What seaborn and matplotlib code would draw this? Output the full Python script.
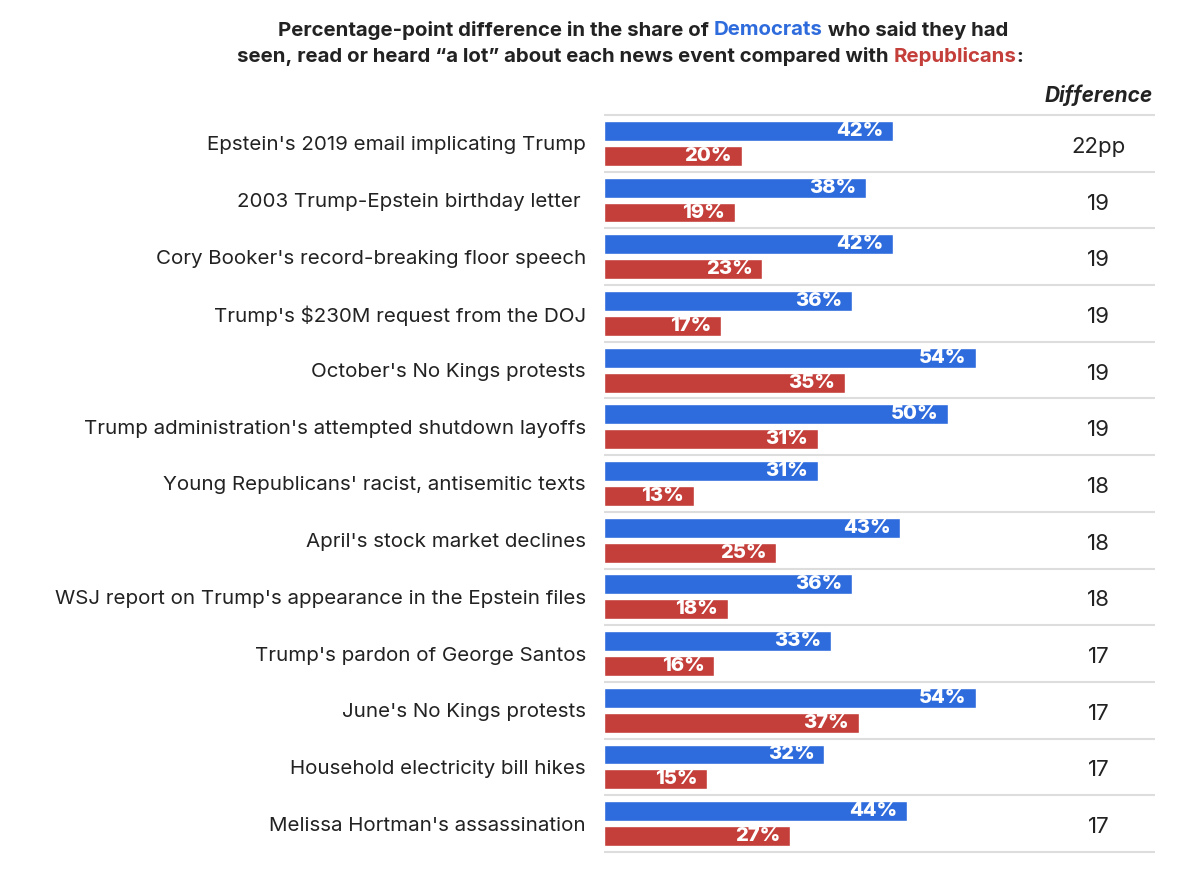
import matplotlib
matplotlib.use('Agg')
import matplotlib.pyplot as plt
import seaborn as sns
import pandas as pd

# data
events = [
    "Epstein's 2019 email implicating Trump",
    "2003 Trump-Epstein birthday letter ",
    "Cory Booker's record-breaking floor speech",
    "Trump's $230M request from the DOJ",
    "October's No Kings protests",
    "Trump administration's attempted shutdown layoffs",
    "Young Republicans' racist, antisemitic texts",
    "April's stock market declines",
    "WSJ report on Trump's appearance in the Epstein files",
    "Trump's pardon of George Santos",
    "June's No Kings protests",
    "Household electricity bill hikes",
    "Melissa Hortman's assassination",
]
dem_share = [42, 38, 42, 36, 54, 50, 31, 43, 36, 33, 54, 32, 44]
rep_share = [20, 19, 23, 17, 35, 31, 13, 25, 18, 16, 37, 15, 27]
diff_labels = ["22pp", "19", "19", "19", "19", "19", "18", "18", "18", "17", "17", "17", "17"]

BLUE = '#2E6BDC'
RED = '#C43E3A'
DARK = '#222222'
W, H = 1200, 876

sns.set_theme(style='white')
plt.rcParams['font.family'] = ['Inter', 'DejaVu Sans']

n = len(events)
df = pd.DataFrame({
    'event': events * 2,
    'share': dem_share + rep_share,
    'party': ['Democrats'] * n + ['Republicans'] * n,
})

fig = plt.figure(figsize=(W / 100, H / 100), dpi=100)
ax = fig.add_axes([604 / W, 24 / H, 551 / W, 737 / H])

sns.barplot(data=df, y='event', x='share', hue='party', order=events,
            palette=[BLUE, RED], orient='h', width=0.88, gap=0.2,
            saturation=1, legend=False, ax=ax)

ax.set_xlim(0, 80)
ax.set_ylim(n - 0.5, -0.5)
for s in ax.spines.values():
    s.set_visible(False)
ax.set_xticks([])
ax.set_xlabel('')
ax.set_ylabel('')
ax.set_yticks(range(n))
ax.set_yticklabels(events, fontsize=14.8, color=DARK)
ax.tick_params(axis='y', length=0, pad=13)

# row separators
ax.hlines([i - 0.5 for i in range(n + 1)], 0, 80, color='#DDDDDD', lw=1.5, clip_on=False, zorder=0)

# value labels inside the bar ends
for cont in ax.containers:
    for p in cont.patches:
        v = p.get_width()
        ax.annotate(f'{v:.0f}%', xy=(v, p.get_y() + p.get_height() / 2),
                    xytext=(-7, 0), textcoords='offset points',
                    ha='right', va='center', color='white',
                    fontsize=14.5, fontweight='heavy')

# difference column
for i, d in enumerate(diff_labels):
    ax.annotate(d, xy=(71.8, i), xytext=(0, -2.5), textcoords='offset points',
                ha='center', va='center', fontsize=16, color=DARK, annotation_clip=False)
fig.text(1153 / W, 1 - 95 / H, 'Difference', ha='right', va='center',
         fontsize=15, fontweight='bold', fontstyle='italic', color=DARK)


def colored_line(pieces, xc, y, size=14.7):
    renderer = fig.canvas.get_renderer()
    texts = [fig.text(0, y, s, color=c, fontsize=size, fontweight='bold',
                      ha='left', va='center') for s, c in pieces]
    widths = [t.get_window_extent(renderer).width for t in texts]
    x = xc - sum(widths) / 2
    for t, w in zip(texts, widths):
        t.set_x(x / W)
        x += w


colored_line([("Percentage-point difference in the share of ", DARK),
              ("Democrats", BLUE),
              (" who said they had", DARK)], 643, 1 - 30 / H)
colored_line([("seen, read or heard \u201ca lot\u201d about each news event compared with ", DARK),
              ("Republicans", RED),
              (":", DARK)], 630, 1 - 57 / H)

fig.savefig('out.png', dpi=100, facecolor='white')
